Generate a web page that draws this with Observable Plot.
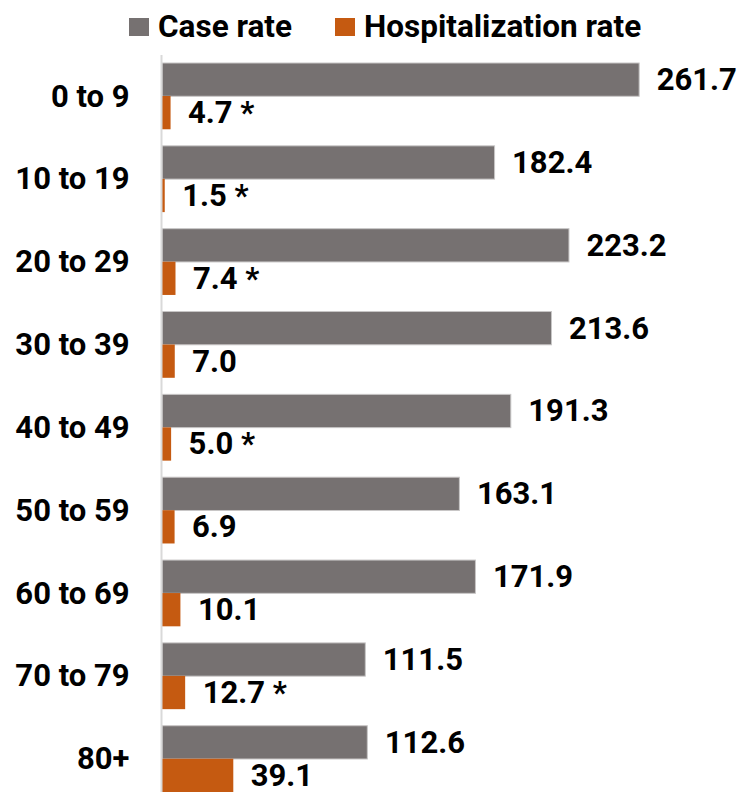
<!DOCTYPE html>
<html>
<head>
<meta charset="utf-8">
<script src="https://cdn.jsdelivr.net/npm/d3@7"></script>
<script src="https://cdn.jsdelivr.net/npm/@observablehq/plot@0.6"></script>
<style>
  html, body { margin: 0; padding: 0; background: #fff; }
  body { width: 743px; height: 792px; overflow: hidden; font-family: Roboto, sans-serif; font-weight: bold; }
  #legend { position: relative; height: 55px; }
  .sw { position: absolute; top: 18px; width: 20px; height: 18px; }
  .lt { position: absolute; top: 9px; font-size: 31.5px; line-height: 36px; color: #000; }
  svg { display: block; }
</style>
</head>
<body>
<div id="legend"></div>
<div id="chart"></div>
<script>
const ages = ["0 to 9","10 to 19","20 to 29","30 to 39","40 to 49","50 to 59","60 to 69","70 to 79","80+"];
const caseRate = [261.7,182.4,223.2,213.6,191.3,163.1,171.9,111.5,112.6];
const hospRate = [4.7,1.5,7.4,7.0,5.0,6.9,10.1,12.7,39.1];
const hospFlag = [true,true,true,false,true,false,false,true,false];
const seriesNames = ["Case rate","Hospitalization rate"];
const seriesColors = ["#767171","#C55A11"];

const caseData = ages.map((a,i) => ({age:a, value:caseRate[i], label:caseRate[i].toFixed(1)}));
const hospData = ages.map((a,i) => ({age:a, value:hospRate[i], label:hospRate[i].toFixed(1) + (hospFlag[i] ? " *" : "")}));

// legend
const legend = document.getElementById("legend");
const legendPos = [[129,158],[335,364]];
seriesNames.forEach((n,i) => {
  const s = document.createElement("div"); s.className = "sw";
  s.style.left = legendPos[i][0] + "px"; s.style.background = seriesColors[i];
  const t = document.createElement("div"); t.className = "lt";
  t.style.left = legendPos[i][1] + "px"; t.textContent = n;
  legend.append(s, t);
});

const font = "Roboto, sans-serif";
const fs = 31;
const fw = "bold";
const chart = Plot.plot({
  width: 743,
  height: 737,
  marginLeft: 162,
  marginRight: 34,
  marginTop: 0,
  marginBottom: 0,
  style: {fontFamily: font, fontSize: fs + "px", fontWeight: fw, color: "#000", background: "#fff"},
  x: {domain: [0, 300], axis: null},
  y: {domain: ages, range: [8, 737], paddingInner: 0.2, paddingOuter: 0, round: false, label: null},
  marks: [
    Plot.barX(caseData, {x: "value", y: "age", fill: seriesColors[0], stroke: "#c8c6c6", strokeWidth: 1, insetBottom: 33}),
    Plot.barX(hospData, {x: "value", y: "age", fill: seriesColors[1], insetTop: 33}),
    Plot.ruleX([0], {stroke: "#d9d9d9", strokeWidth: 2, dx: -1}),
    Plot.text(caseData, {x: "value", y: "age", text: "label", dx: 17, dy: -16.5, textAnchor: "start", fill: "#000", fontSize: fs, fontWeight: fw}),
    Plot.text(hospData, {x: "value", y: "age", text: "label", dx: 17, dy: 16.5, textAnchor: "start", fill: "#000", fontSize: fs, fontWeight: fw}),
    Plot.axisY({tickSize: 0, tickPadding: 33, label: null, fontSize: fs, fontWeight: fw})
  ]
});
document.getElementById("chart").append(chart);
</script>
</body>
</html>
